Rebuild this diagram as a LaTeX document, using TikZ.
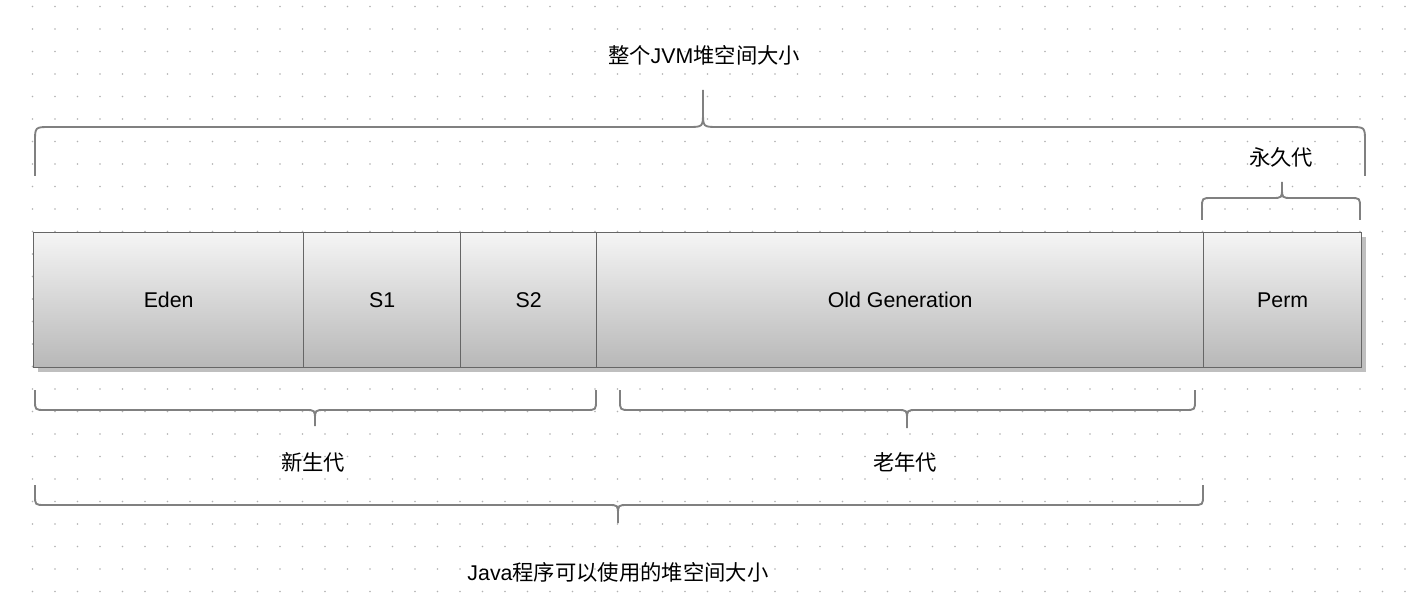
\documentclass[tikz,border=0pt]{standalone}
\usepackage{fontspec}
\setmainfont{Liberation Sans}
\newfontfamily\cjk{Noto Sans CJK SC}
% \hbr{x1}{x2}{yend}{ymid}{tipx}{tipy}{r}
\newcommand\hbr[7]{%
  \draw[brc] (#1,#3) -- (#1,{#4+(#3>#4?1:-1)*0}) ;%
}
\begin{document}
\begin{tikzpicture}[x=0.75pt,y=-0.75pt,
  seg/.style={draw=black!60,line width=1pt,top color=black!4,bottom color=black!28,minimum height=101.25pt,inner sep=0pt,font=\fontsize{16}{18}\selectfont},
  brc/.style={draw=black!50,line width=1.4pt},
  lbl/.style={font=\cjk\fontsize{16}{18}\selectfont,inner sep=0pt}]
\useasboundingbox (0,0) rectangle (1407,602);
\fill[white] (0,0) rectangle (1407,602);
\foreach \i in {0,...,61}{\foreach \j in {0,...,26}{
  \fill[black!30] (32.5+22.5*\i,6.5+22.5*\j) circle (0.9);}}
\fill[black!25] (38,237) rectangle (1366,372);
\node[seg,minimum width=202.5pt,anchor=north west] (eden) at (33,232) {Eden};
\node[seg,minimum width=117.75pt,anchor=north west] (s1) at (303,232) {S1};
\node[seg,minimum width=102pt,anchor=north west] (s2) at (460,232) {S2};
\node[seg,minimum width=455.25pt,anchor=north west] (old) at (596,232) {Old Generation};
\node[seg,minimum width=118.5pt,anchor=north west] (perm) at (1203,232) {Perm};
% braces: up-pointing tip (top brace)
\draw[brc] (35,176) -- (35,142) .. controls (35,127) .. (50,127) -- (688,127) .. controls (703,127) .. (703,112) -- (703,90)
           (703,112) .. controls (703,127) .. (718,127) -- (1350,127) .. controls (1365,127) .. (1365,142) -- (1365,176);
\node[lbl] (t1) at (704,55) {整个{\fontspec{Liberation Sans}JVM}堆空间大小};
% perm brace
\draw[brc] (1202,220) -- (1202,208) .. controls (1202,198) .. (1212,198) -- (1272,198) .. controls (1282,198) .. (1282,188) -- (1282,182)
           (1282,188) .. controls (1282,198) .. (1292,198) -- (1350,198) .. controls (1360,198) .. (1360,208) -- (1360,220);
\node[lbl] (t2) at (1281,157) {永久代};
% young
\draw[brc] (35,390) -- (35,400) .. controls (35,410) .. (45,410) -- (305,410) .. controls (315,410) .. (315,420) -- (315,426)
           (315,420) .. controls (315,410) .. (325,410) -- (586,410) .. controls (596,410) .. (596,400) -- (596,390);
\node[lbl] (t3) at (313,462) {新生代};
% old
\draw[brc] (620,390) -- (620,400) .. controls (620,410) .. (630,410) -- (897,410) .. controls (907,410) .. (907,420) -- (907,428)
           (907,420) .. controls (907,410) .. (917,410) -- (1185,410) .. controls (1195,410) .. (1195,400) -- (1195,390);
\node[lbl] (t4) at (905,462) {老年代};
% java heap
\draw[brc] (35,485) -- (35,495) .. controls (35,505) .. (45,505) -- (608,505) .. controls (618,505) .. (618,515) -- (618,523)
           (618,515) .. controls (618,505) .. (628,505) -- (1193,505) .. controls (1203,505) .. (1203,495) -- (1203,485);
\node[lbl] (t5) at (618,572) {{\fontspec{Liberation Sans}Java}程序可以使用的堆空间大小};
\end{tikzpicture}
\end{document}
